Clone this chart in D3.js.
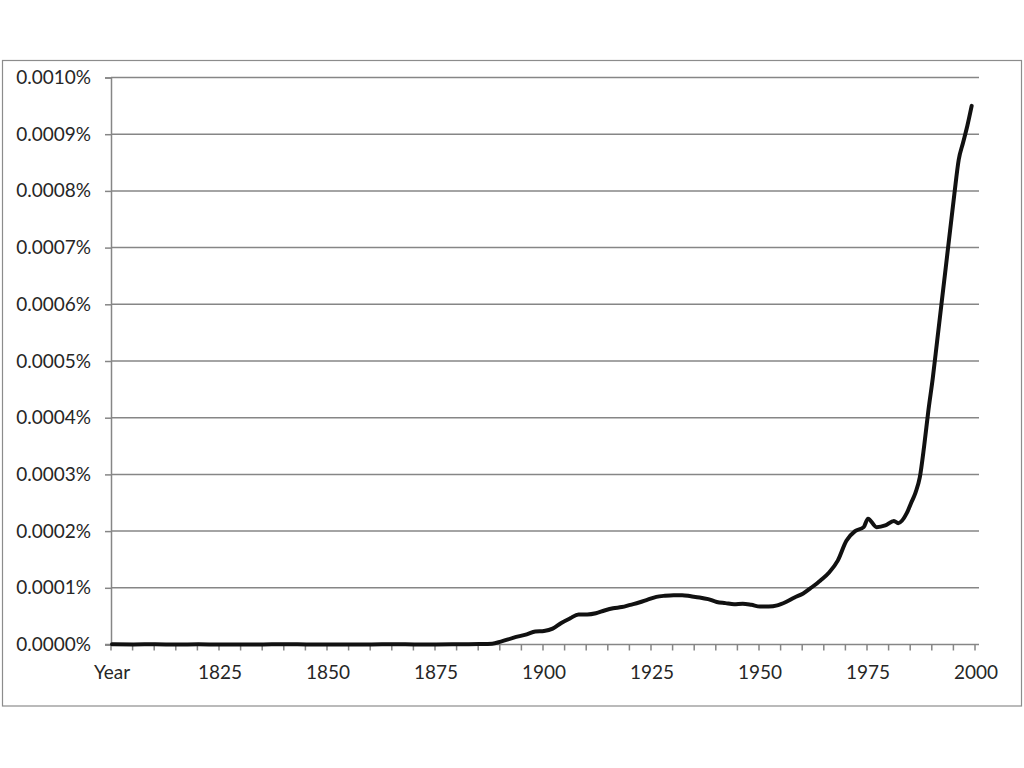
<!DOCTYPE html>
<html>
<head>
<meta charset="utf-8">
<script src="https://cdn.jsdelivr.net/npm/d3@7"></script>
<style>
  html, body { margin: 0; padding: 0; background: #fff; }
  svg { display: block; }
  text { font-family: Lato, "Open Sans", sans-serif; fill: #262626; }
</style>
</head>
<body>
<svg id="chart" width="1024" height="768"></svg>
<script>
// ---- data (values in percent) ----
const years = [1800,1805,1810,1815,1820,1825,1830,1835,1840,1845,1850,1855,1860,1865,1870,1875,1880,1885,1888,
  1890,1893,1896,1898,1900,1902,1904,1906,1908,1910,1912,1914,1916,1918,1920,1922,1924,1926,1928,1930,1932,1934,1936,1938,
  1940,1942,1944,1946,1948,1950,1952,1954,1956,1958,1960,1962,1964,1966,1968,1970,1972,1974,1975,1977,1979,1981,1982,1984,
  1985,1986,1987,1988,1989,1990,1991,1992,1993,1994,1995,1996,1997,1998,1999];
const values = [0.0000003,0.0000002,0.0000003,0.0000001,0.0000003,0.0000001,0.0000001,0.0000002,0.0000004,0.0000002,
  0.0000001,0.0000002,0.0000002,0.0000003,0.0000002,0.0000001,0.0000004,0.0000008,0.0000015,
  0.000005,0.000012,0.000018,0.000023,0.000024,0.000028,0.000038,0.000046,0.000053,0.000053,0.000055,0.000060,0.000064,0.000066,
  0.000070,0.000074,0.000079,0.000084,0.000086,0.000087,0.000087,0.000085,0.000083,0.000080,
  0.000075,0.000073,0.000071,0.000072,0.000070,0.000067,0.000067,0.000069,0.000075,0.000083,0.000090,0.000101,0.000113,0.000127,
  0.000148,0.000183,0.000200,0.000207,0.000222,0.000207,0.000210,0.000218,0.000214,0.000232,
  0.000250,0.000268,0.000295,0.000350,0.000414,0.000470,0.000535,0.000600,0.000665,0.000730,0.000795,0.000855,0.000885,0.000915,0.000950];
const yTicks = [0,0.0001,0.0002,0.0003,0.0004,0.0005,0.0006,0.0007,0.0008,0.0009,0.0010];
const xLabelYears = [1800,1825,1850,1875,1900,1925,1950,1975,2000];
const xLabelTexts = ["Year","1825","1850","1875","1900","1925","1950","1975","2000"];
const minorTickYears = d3.range(1800, 2001, 5);

// ---- layout ----
const svg = d3.select("#chart");
const plotLeft = 111, plotRight = 979, plotTop = 77.5, plotBottom = 644.5;
const fontSize = "19px";

svg.append("rect").attr("x", 2.5).attr("y", 60.5).attr("width", 1019).attr("height", 645.5)
  .attr("fill", "#fff").attr("stroke", "#8c8c8c").attr("stroke-width", 1.2);

const x = d3.scaleLinear().domain([1800, 2000]).range([plotLeft + 1, 976]);
const y = d3.scaleLinear().domain([0, 0.001]).range([plotBottom, plotTop]);

// y axis + labels
const yAxis = d3.axisLeft(y).tickValues(yTicks)
  .tickFormat(d => d.toFixed(4) + "%")
  .tickSize(6).tickPadding(14);
const gy = svg.append("g").attr("transform", `translate(${plotLeft},0)`).call(yAxis);
gy.select(".domain").attr("stroke", "#868686").attr("stroke-width", 1.5);
gy.selectAll(".tick line").attr("stroke", "#868686").attr("stroke-width", 1.5);
gy.selectAll(".tick text").style("font-size", fontSize).attr("fill", "#262626")
  .style("font-family", "Lato, 'Open Sans', sans-serif");

// gridlines
svg.append("g").selectAll("line").data(yTicks.filter(d => d > 0)).join("line")
  .attr("x1", plotLeft).attr("x2", plotRight)
  .attr("y1", d => y(d)).attr("y2", d => y(d))
  .attr("stroke", "#868686").attr("stroke-width", 1.5);

// x axis line + ticks
svg.append("line").attr("x1", plotLeft - 6).attr("x2", plotRight).attr("y1", plotBottom).attr("y2", plotBottom)
  .attr("stroke", "#868686").attr("stroke-width", 1.5);
svg.append("g").selectAll("line").data(minorTickYears).join("line")
  .attr("x1", d => x(d) - 1).attr("x2", d => x(d) - 1)
  .attr("y1", plotBottom).attr("y2", plotBottom + 6)
  .attr("stroke", "#868686").attr("stroke-width", 1.5);

svg.append("g").selectAll("text").data(xLabelYears).join("text")
  .attr("x", d => x(d)).attr("y", 679)
  .attr("text-anchor", "middle")
  .style("font-size", fontSize)
  .text((d, i) => xLabelTexts[i]);

// line
const data = years.map((yr, i) => ({ yr, v: values[i] }));
svg.append("path").datum(data)
  .attr("fill", "none").attr("stroke", "#111").attr("stroke-width", 4)
  .attr("stroke-linejoin", "round").attr("stroke-linecap", "round")
  .attr("d", d3.line().x(d => x(d.yr)).y(d => y(d.v)).curve(d3.curveMonotoneX));
</script>
</body>
</html>
